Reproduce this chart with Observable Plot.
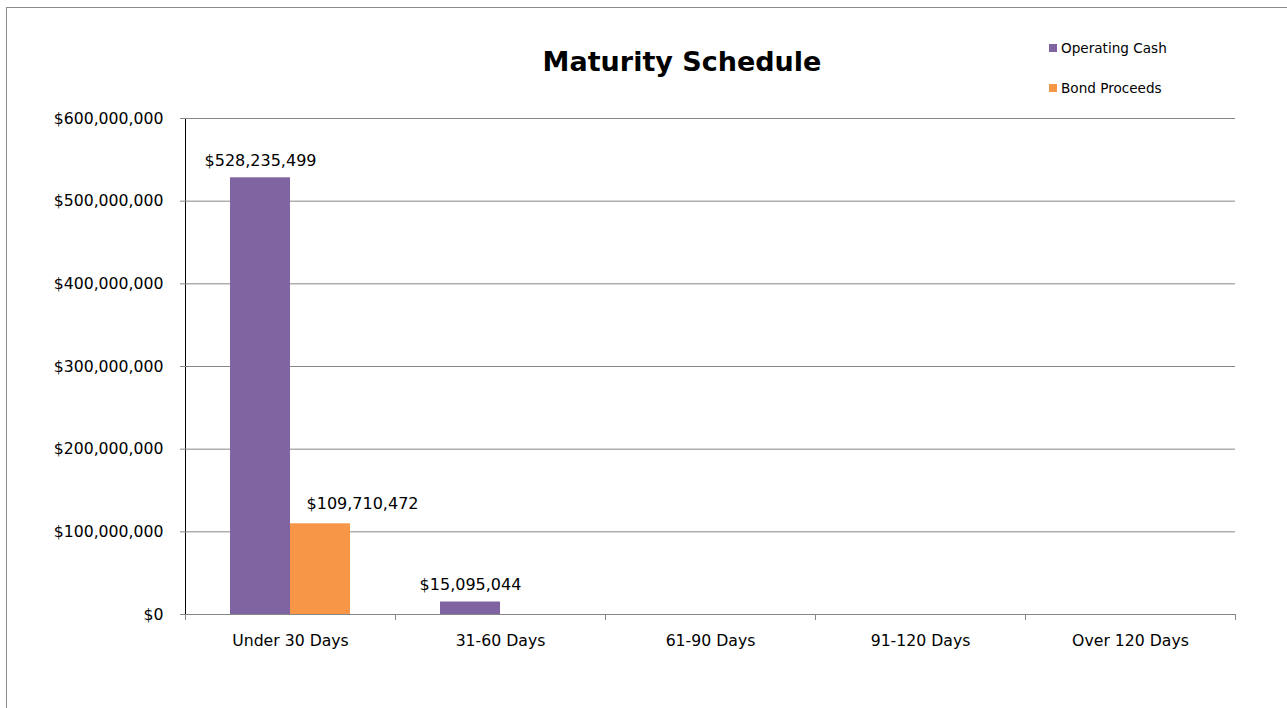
<!DOCTYPE html>
<html>
<head>
<meta charset="utf-8">
<script src="https://cdn.jsdelivr.net/npm/d3@7"></script>
<script src="https://cdn.jsdelivr.net/npm/@observablehq/plot@0.6"></script>
<style>
  html, body { margin: 0; padding: 0; background: #fff; overflow: hidden; }
  #wrap { position: relative; width: 1287px; height: 708px; font-family: "DejaVu Sans", sans-serif; }
  #border { position: absolute; left: 6px; top: 7px; width: 1300px; height: 720px; border: 1.5px solid #8c8c8c; box-sizing: border-box; }
  #title { position: absolute; left: 0; width: 1364px; top: 45px; line-height: 34px; text-align: center; font-size: 27px; font-weight: bold; color: #000; }
  #legend { position: absolute; left: 1049px; top: 38px; font-size: 13.6px; color: #000; }
  #legend .item { display: flex; align-items: center; height: 20px; margin-bottom: 20px; }
  #legend .sw { width: 8px; height: 8px; margin-right: 4px; }
  #chart { position: absolute; left: 0; top: 0; }
  #chart svg g[aria-label="y-axis tick"] path,
  #chart svg g[aria-label="y-axis line"] line { stroke: #868686; }
</style>
</head>
<body>
<div id="wrap">
  <div id="border"></div>
  <div id="chart"></div>
  <div id="title">Maturity Schedule</div>
  <div id="legend"></div>
</div>
<script>
const categories = ["Under 30 Days", "31-60 Days", "61-90 Days", "91-120 Days", "Over 120 Days"];
const seriesNames = ["Operating Cash", "Bond Proceeds"];
const operatingCash = [528235499, 15095044, null, null, null];
const bondProceeds = [109710472, null, null, null, null];
const yTicks = [0, 100000000, 200000000, 300000000, 400000000, 500000000, 600000000];
const seriesColors = ["#8064A2", "#F79646"];

const rows = [];
categories.forEach((c, i) => {
  [operatingCash, bondProceeds].forEach((arr, s) => {
    if (arr[i] != null) rows.push({category: c, series: seriesNames[s], value: arr[i]});
  });
});

const fmt = v => "$" + d3.format(",")(v);
const W = 1287, H = 708, mTop = 118, mBottom = 94, mLeft = 183, mRight = 50;
const frameH = H - mTop - mBottom;

const chart = Plot.plot({
  width: W,
  height: H,
  marginTop: mTop,
  marginBottom: mBottom,
  marginLeft: mLeft,
  marginRight: mRight,
  style: {fontFamily: "'DejaVu Sans', sans-serif", fontSize: "15.7px", color: "#000", background: "transparent"},
  fx: {domain: categories, padding: 0, label: null, axis: "bottom", tickSize: 0, tickPadding: 20},
  x: {domain: seriesNames, paddingInner: 0, paddingOuter: 0.75, axis: null},
  y: {domain: [0, 600000000], ticks: yTicks, tickFormat: fmt, label: null, tickSize: 5, tickPadding: 17, line: true},
  color: {domain: seriesNames, range: seriesColors},
  marks: [
    Plot.gridY(yTicks, {stroke: "#868686", strokeOpacity: 1}),
    Plot.ruleY(categories, {fx: d => d, y: 0, stroke: "#868686"}),
    Plot.frame({anchor: "left", stroke: "#868686", insetTop: frameH, insetBottom: -5}),
    Plot.frame({anchor: "right", stroke: "#868686", insetTop: frameH, insetBottom: -5}),
    Plot.barY(rows, {fx: "category", x: "series", y: "value", fill: "series"}),
    Plot.text(rows.filter(d => d.series === seriesNames[0]), {fx: "category", x: "series", y: "value", text: d => fmt(d.value), dy: -17, fill: "#000", fontSize: 16}),
    Plot.text(rows.filter(d => d.series === seriesNames[1]), {fx: "category", x: "series", y: "value", text: d => fmt(d.value), dy: -20, dx: 42, fill: "#000", fontSize: 16})
  ]
});
document.getElementById("chart").appendChild(chart);

const legend = document.getElementById("legend");
seriesNames.forEach((s, i) => {
  const item = document.createElement("div");
  item.className = "item";
  const sw = document.createElement("span");
  sw.className = "sw";
  sw.style.background = seriesColors[i];
  const t = document.createElement("span");
  t.textContent = s;
  item.appendChild(sw);
  item.appendChild(t);
  legend.appendChild(item);
});
</script>
</body>
</html>
